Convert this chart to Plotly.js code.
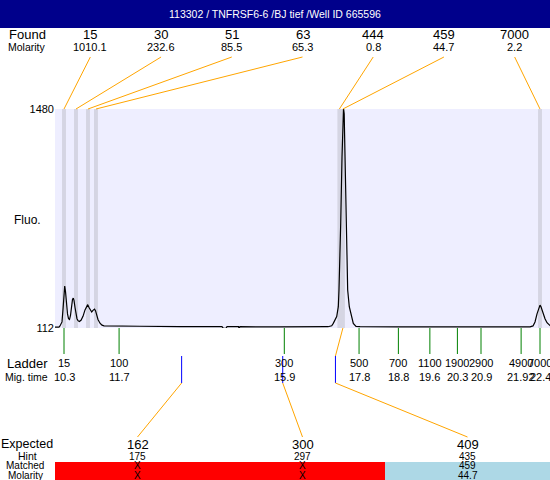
<!DOCTYPE html>
<html>
<head>
<meta charset="utf-8">
<script src="https://cdn.plot.ly/plotly-3.0.1.min.js"></script>
<style>html,body{margin:0;padding:0;background:#fff;}#chart{width:550px;height:480px;}</style>
</head>
<body>
<div id="chart"></div>
<script>
// ---- data ----
const titleText = "113302 / TNFRSF6-6 /BJ tief /Well ID 665596";

const migTime = [10.071,10.173,10.198,10.224,10.249,10.275,10.300,10.318,10.338,10.364,10.389,10.415,10.440,10.465,10.491,10.516,10.536,10.554,10.580,10.605,10.630,10.656,10.689,10.732,10.783,10.834,10.872,10.903,10.936,10.974,11.004,11.037,11.075,11.101,11.126,11.164,11.215,11.266,11.317,11.469,12.232,13.249,14.316,14.354,14.418,14.444,14.736,14.749,14.774,15.791,17.011,17.105,17.145,17.232,17.273,17.290,17.316,17.334,17.367,17.392,17.405,17.422,17.443,17.468,17.486,17.511,17.552,17.613,17.654,17.723,17.825,18.841,21.383,22.146,22.222,22.273,22.324,22.375,22.400,22.425,22.476,22.527,22.578,22.628,22.667];
const fluo    = [118,118,125,145,150,230,330,374,340,260,200,170,165,190,250,290,299,285,240,195,170,158,153,160,185,225,250,258,240,218,212,222,230,220,195,165,142,130,125,124,123,121,120,110,110,120,120,110,120,119,120,126,141,183,245,349,557,766,1182,1450,1480,1450,1182,766,557,349,245,183,141,122,120,119,119,119,125,150,200,245,255,245,205,170,145,130,125];

const yTickVals = [112, 1480];

const foundSizes    = ["15","30","51","63","444","459","7000"];
const foundMolarity = ["1010.1","232.6","85.5","65.3","0.8","44.7","2.2"];
const foundTimes    = [10.30, 10.605, 10.91, 11.113, 17.30, 17.39, 22.40];

const ladderSizes = ["15","100","300","500","700","1100","1900","2900","4900","7000"];
const ladderTimes = [10.3, 11.7, 15.9, 17.8, 18.8, 19.6, 20.3, 20.9, 21.92, 22.4];
const ladderTimeLabels = ["10.3","11.7","15.9","17.8","18.8","19.6","20.3","20.9","21.92","22.4"];

const expectedSizes   = ["162","300","409"];
const hintSizes       = ["175","297","435"];
const hintTimes       = [13.29, 15.86, 17.20];
const matchedSizes    = ["X","X","459"];
const matchedMolarity = ["X","X","44.7"];
const matchedFoundIdx = [-1, -1, 5];

// ---- layout helpers (pixel -> paper) ----
const L = 55, R = 550, T = 109, B = 328;
const xRange = [10.0712, 22.654];
const px = p => (p - L) / (R - L);
const py = p => (B - p) / (B - T);
const tp = t => (t - xRange[0]) / (xRange[1] - xRange[0]);

const FONT = "Liberation Sans, Arial, sans-serif";
const shapes = [];
const ann = [];
function txt(x, y, text, size, opts) {
  ann.push(Object.assign({x: x, y: y, xref: 'paper', yref: 'paper', text: text, showarrow: false, borderpad: 0,
    xanchor: 'center', yanchor: 'middle', font: {family: FONT, size: size, color: '#000'}}, opts || {}));
}
function line(x0, y0, x1, y1, color, w, xref) {
  shapes.push({type: 'line', xref: xref || 'paper', yref: 'paper', x0: x0, y0: y0, x1: x1, y1: y1,
    line: {color: color, width: w || 1}});
}

// title bar
shapes.push({type: 'rect', xref: 'paper', yref: 'paper', x0: px(0), x1: px(550), y0: py(28), y1: py(0),
  fillcolor: '#00008B', line: {width: 0}, layer: 'above'});
txt(px(275), py(14), titleText, 10.5, {font: {family: FONT, size: 10.5, color: '#fff'}});

// found peaks: bands, labels, connectors
const nF = foundSizes.length;
foundTimes.forEach((t, i) => {
  shapes.push({type: 'rect', xref: 'x', yref: 'paper', x0: t - 0.05, x1: t + 0.05, y0: 0, y1: 1,
    fillcolor: '#D5D5E3', line: {width: 0}, layer: 'below'});
  const cx = (i + 0.5) / nF;
  txt(cx, py(35), foundSizes[i], 13);
  txt(cx, py(47), foundMolarity[i], 11);
  line(cx, py(57), tp(t), 1, '#FFA500', 1);
});
txt(px(27), py(35), "Found", 13);
txt(px(27), py(47), "Molarity", 10.5);
txt(px(27), py(220), "Fluo.", 12);

// ladder
ladderTimes.forEach((t, i) => {
  line(t, 0, t, py(354), '#008000', 1, 'x');
  ann.push({x: t, y: py(363), xref: 'x', yref: 'paper', text: ladderSizes[i], showarrow: false, borderpad: 0,
    xanchor: 'center', yanchor: 'middle', font: {family: FONT, size: 11, color: '#000'}});
  ann.push({x: t, y: py(377), xref: 'x', yref: 'paper', text: ladderTimeLabels[i], showarrow: false, borderpad: 0,
    xanchor: 'center', yanchor: 'middle', font: {family: FONT, size: 11, color: '#000'}});
});
txt(px(27), py(363), "Ladder", 13);
txt(px(26), py(377), "Mig. time", 10.5);

// expected table
const nE = expectedSizes.length;
shapes.push({type: 'rect', xref: 'paper', yref: 'paper', x0: px(55), x1: px(385), y0: py(480), y1: py(462),
  fillcolor: '#FF0000', line: {width: 0}});
shapes.push({type: 'rect', xref: 'paper', yref: 'paper', x0: px(385), x1: px(550), y0: py(480), y1: py(462),
  fillcolor: '#ADD8E6', line: {width: 0}});
hintTimes.forEach((t, i) => {
  const cx = (i + 0.5) / nE;
  line(tp(t), py(356), tp(t), py(383), '#0000FF', 1);
  line(tp(t), py(383), cx, py(437), '#FFA500', 1);
  if (matchedFoundIdx[i] >= 0) line(tp(foundTimes[matchedFoundIdx[i]]), 0, tp(t), py(356), '#FFA500', 1);
  txt(cx, py(444.5), expectedSizes[i], 13);
  txt(cx, py(456), hintSizes[i], 10);
  txt(cx, py(466), matchedSizes[i], 10);
  txt(cx, py(475), matchedMolarity[i], 10);
});
txt(px(27), py(443.5), "Expected", 12.5);
txt(px(27), py(456), "Hint", 10.5);
txt(px(25), py(466), "Matched", 10);
txt(px(25), py(475), "Molarity", 10);

const trace = {x: migTime, y: fluo, type: 'scatter', mode: 'lines',
  line: {color: '#000', width: 1.2}, hoverinfo: 'skip', showlegend: false};

const layout = {
  width: 550, height: 480,
  margin: {l: L, r: 550 - R, t: T, b: 480 - B, pad: 0},
  paper_bgcolor: '#fff', plot_bgcolor: '#EEEEFF',
  showlegend: false,
  xaxis: {range: xRange, showticklabels: false, showgrid: false, zeroline: false, showline: false, ticks: '', fixedrange: true},
  yaxis: {range: [yTickVals[0], yTickVals[1]], tickvals: yTickVals, ticktext: yTickVals.map(String),
    showgrid: false, zeroline: false, showline: false, ticks: '', automargin: false,
    tickfont: {family: FONT, size: 11, color: '#000'}, fixedrange: true},
  shapes: shapes,
  annotations: ann
};

Plotly.newPlot('chart', [trace], layout, {staticPlot: true, displayModeBar: false});
</script>
</body>
</html>
